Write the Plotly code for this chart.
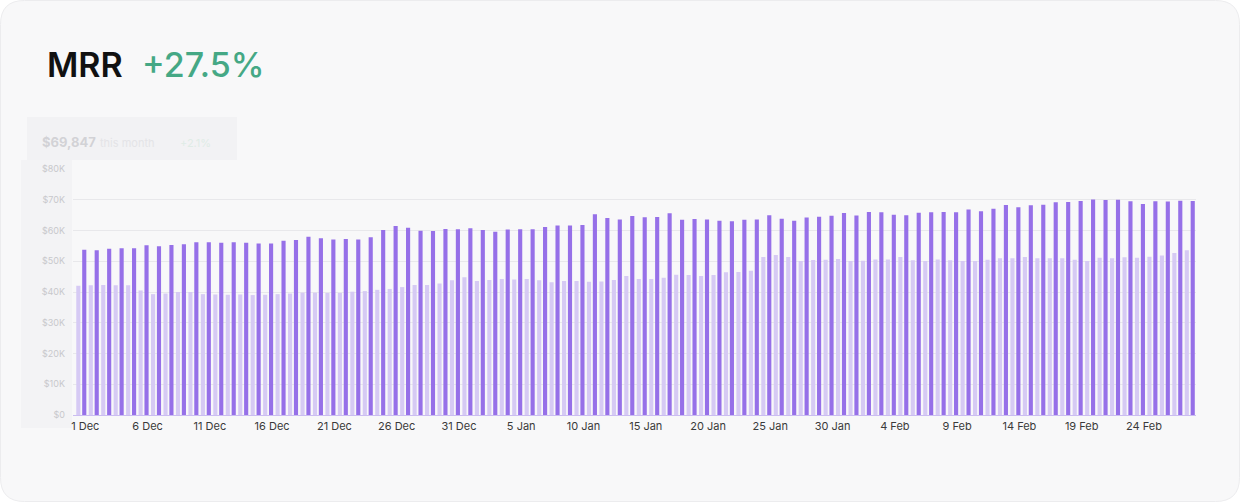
import plotly.graph_objects as go
import pandas as pd

# ---- data ----
dates = pd.date_range("2022-12-01", "2023-02-28", freq="D")
mrr_current = [
    53.7, 53.6, 54.1, 54.2, 54.2, 55.2, 54.9, 55.3, 55.5, 56.2, 56.2, 56.0, 56.2, 56.0, 55.8, 55.8, 56.7, 56.9, 58.0, 57.5, 57.1, 57.2,
    57.1, 57.8, 60.2, 61.5, 60.9, 59.9, 59.8, 60.5, 60.4, 60.7, 60.2, 59.6, 60.3, 60.4, 60.4, 61.1, 61.6, 61.6, 61.8, 65.3, 64.1, 63.6, 64.7,
    64.3, 64.4, 65.6, 63.5, 63.7, 63.6, 63.2, 63.0, 63.5, 63.6, 65.0, 63.8, 63.2, 64.2, 64.5, 64.8, 65.7, 64.9, 66.0, 65.9, 65.1, 65.0,
    65.8, 65.9, 66.0, 65.9, 66.8, 66.3, 67.1, 68.3, 67.6, 68.2, 68.4, 69.2, 69.3, 69.6, 70.1, 69.9, 70.0, 69.5, 68.6, 69.5, 69.4, 69.7, 69.6,
]
mrr_previous = [
    42.0, 42.2, 42.3, 42.2, 42.2, 40.5, 39.3, 39.5, 40.0, 40.0, 39.3, 39.2, 39.1, 39.2, 39.0, 39.1, 39.3, 39.5, 39.8, 39.8, 39.7, 39.7,
    40.1, 40.3, 40.7, 41.0, 41.6, 42.3, 42.3, 42.8, 43.8, 44.8, 43.6, 43.9, 44.2, 44.1, 44.2, 43.8, 43.2, 43.6, 43.6, 43.3, 43.4, 43.9, 45.2,
    44.2, 44.2, 44.6, 45.6, 45.5, 45.2, 45.5, 46.4, 46.5, 46.9, 51.4, 52.0, 51.4, 50.1, 50.4, 50.5, 50.7, 50.1, 50.2, 50.6, 50.6, 51.4,
    50.3, 50.1, 50.6, 50.3, 50.1, 50.1, 50.5, 51.0, 51.0, 51.4, 51.0, 51.0, 51.0, 50.5, 50.1, 51.1, 51.0, 51.3, 51.1, 51.5, 51.9, 52.7, 53.6,
]
y_tickvals = [0, 10, 20, 30, 40, 50, 60, 70, 80]
y_ticktext = ["$0", "$10K", "$20K", "$30K", "$40K", "$50K", "$60K", "$70K", "$80K"]
title_text = "MRR"
change_text = "+27.5%"
summary_value = "$69,847"
summary_label = "this month"
summary_change = "+2.1%"

assert len(mrr_current) == len(dates) == len(mrr_previous)

# ---- layout geometry (pixels) ----
W, H = 1240, 502
L, R, T, B = 73, 44, 169, 87
PW, PH = W - L - R, H - T - B

def px(x):
    return (x - L) / PW

def py(y):
    return (H - B - y) / PH

fig = go.Figure()
fig.add_trace(go.Bar(x=dates, y=mrr_previous, name="Previous period",
                     marker=dict(color="#d6caf4", line=dict(width=0))))
fig.add_trace(go.Bar(x=dates, y=mrr_current, name="MRR",
                     marker=dict(color="#9670e8", line=dict(width=0))))

# rounded card
r = 24
x0, y0, x1, y1 = 0.5, 0.5, W - 0.5, H - 0.5
def P(x, y):
    return f"{px(x):.5f},{py(y):.5f}"
card = (f"M {P(x0 + r, y0)} L {P(x1 - r, y0)} Q {P(x1, y0)} {P(x1, y0 + r)} "
        f"L {P(x1, y1 - r)} Q {P(x1, y1)} {P(x1 - r, y1)} L {P(x0 + r, y1)} "
        f"Q {P(x0, y1)} {P(x0, y1 - r)} L {P(x0, y0 + r)} Q {P(x0, y0)} {P(x0 + r, y0)} Z")

shapes = [
    dict(type="path", path=card, xref="paper", yref="paper",
         fillcolor="#f8f8f9", line=dict(color="#ececee", width=1), layer="below"),
    dict(type="rect", xref="paper", yref="paper", x0=px(27), x1=px(237), y0=py(160), y1=py(117),
         fillcolor="#f2f2f4", line=dict(width=0), layer="below"),
    dict(type="rect", xref="paper", yref="paper", x0=px(21), x1=px(72), y0=py(428), y1=py(160),
         fillcolor="#f3f3f5", line=dict(width=0), layer="below"),
]

annotations = [
    dict(text=title_text, x=px(45), y=py(65), xref="paper", yref="paper",
         xanchor="left", yanchor="middle", showarrow=False,
         font=dict(family="Inter", size=34, color="#111111", weight=600)),
    dict(text=change_text, x=px(140), y=py(65), xref="paper", yref="paper",
         xanchor="left", yanchor="middle", showarrow=False,
         font=dict(family="Inter", size=34, color="#45a885", weight=500)),
    dict(text=f"<b>{summary_value}</b>", x=px(40), y=py(142), xref="paper", yref="paper",
         xanchor="left", yanchor="middle", showarrow=False,
         font=dict(family="Inter", size=13, color="#d2d2d6")),
    dict(text=summary_label, x=px(98), y=py(143), xref="paper", yref="paper",
         xanchor="left", yanchor="middle", showarrow=False,
         font=dict(family="Inter", size=11, color="#e4e4e7")),
    dict(text=summary_change, x=px(178), y=py(143), xref="paper", yref="paper",
         xanchor="left", yanchor="middle", showarrow=False,
         font=dict(family="Inter", size=11, color="#dfece6")),
]

fig.update_layout(
    width=W, height=H,
    margin=dict(l=L, r=R, t=T, b=B, pad=0),
    paper_bgcolor="#ffffff",
    plot_bgcolor="rgba(0,0,0,0)",
    barmode="group", bargap=0.05, bargroupgap=0.3,
    showlegend=False,
    shapes=shapes,
    annotations=annotations,
    font=dict(family="Inter", color="#3a3a3a"),
    xaxis=dict(
        type="date",
        range=[dates[0] - pd.Timedelta(hours=16), dates[-1] + pd.Timedelta(hours=12)],
        tick0=dates[0], dtick=5 * 86400000, tickformat="%-d %b",
        showgrid=False, zeroline=False,
        showline=True, linecolor="#cbbdf1", linewidth=1,
        ticks="", ticklabelstandoff=1, ticklabelshift=4,
        tickfont=dict(family="Inter", size=11, color="#3a3a3a"),
    ),
    yaxis=dict(
        range=[0, 80],
        tickvals=y_tickvals, ticktext=y_ticktext,
        showgrid=True, gridcolor="#e8e8eb", gridwidth=1,
        zeroline=False, showline=False, ticks="",
        ticklabelstandoff=7,
        tickfont=dict(family="Inter", size=9, color="#c8c8cc"),
    ),
)

fig.write_html("out.html", config={"displayModeBar": False},
               post_script="document.body.style.margin='0';")
